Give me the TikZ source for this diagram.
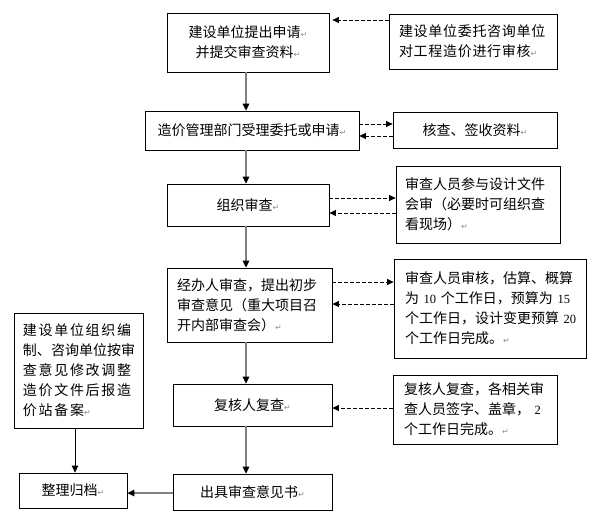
\documentclass[tikz,border=0pt]{standalone}
\usepackage{fontspec}
\setmainfont{Noto Sans CJK SC}
\newfontfamily\digitf{Liberation Serif}
\newfontfamily\symf{DejaVu Sans}
\newfontfamily\wideA{Noto Sans CJK SC}[LetterSpace=12]
\newfontfamily\wideB{Noto Sans CJK SC}[LetterSpace=5]
\usetikzlibrary{arrows.meta}
\newcommand\rmk{{\symf\fontsize{8}{8}\selectfont\textcolor{black!45}{↵}}}
\newcommand\dg[1]{{\digitf\fontsize{12.5}{12.5}\selectfont #1}}
\tikzset{
  box/.style={draw=black, line width=0.8pt, inner ysep=0pt, font=\fontsize{14}{20}\selectfont},
  cbox/.style={box, align=center, inner xsep=0pt},
  lbox/.style={box, align=left},
  sarr/.style={draw=black!50, line width=1.4pt, -{Triangle[length=7pt,width=6.5pt,color=black]}},
  karr/.style={draw=black, line width=1pt, -{Triangle[length=7pt,width=6.5pt]}},
  darr/.style={draw=black, line width=0.8pt, dash pattern=on 4pt off 2pt, -{Triangle[length=6.5pt,width=6pt]}}
}
\begin{document}
\begin{tikzpicture}[x=1pt,y=-1pt]
\useasboundingbox (0,0) rectangle (594,512);
\coordinate (ax) at (246,0);
% main column
\node[cbox, minimum width=162pt, minimum height=59pt] (b1) at (248,42.5) {建设单位提出申请\rmk\\并提交审查资料\rmk};
\node[cbox, minimum width=214pt, minimum height=39pt] (b2) at (252,130.5) {造价管理部门受理委托或申请\rmk};
\node[cbox, minimum width=162pt, minimum height=42pt] (b3) at (248,205) {组织审查\rmk};
\node[lbox, minimum height=74pt, inner xsep=10pt, text width=145pt] (b4) at (249.5,305) {经办人审查，提出初步\\审查意见（重大项目召\\开内部审查会）\rmk};
\node[cbox, minimum width=159pt, minimum height=42pt] (b5) at (252.5,405) {复核人复查\rmk};
\node[cbox, minimum width=159pt, minimum height=36pt] (b6) at (252.5,492) {出具审查意见书\rmk};
% right column
\node[lbox, minimum height=55pt, inner xsep=10pt, text width=148pt] (r1) at (473,41.5) {{\wideB 建设单位委托咨询单位}\\{\wideB 对工程造价进行审核}\rmk};
\node[cbox, minimum width=164pt, minimum height=36pt] (r2) at (475,130) {核查、签收资料\rmk};
\node[lbox, minimum height=77pt, inner xsep=9pt, text width=146pt] (r3) at (478,204.5) {审查人员参与设计文件\\会审（必要时可组织查\\看现场）\rmk};
\node[lbox, minimum height=99pt, inner xsep=11pt, text width=170pt] (r4) at (490,308.5) {审查人员审核，估算、概算\\为~\dg{10}~个工作日，预算为~\dg{15}\\个工作日，设计变更预算~\dg{20}\\个工作日完成。\rmk};
\node[lbox, minimum height=69pt, inner xsep=11pt, text width=142pt] (r5) at (475,409.5) {复核人复查，各相关审\\查人员签字、盖章，~\dg{2}\\个工作日完成。\rmk};
% left column
\node[lbox, minimum height=115pt, inner xsep=9pt, text width=111pt] (l1) at (78.5,370.5) {{\wideA 建设单位组织编}\\制、咨询单位按审\\{\wideA 查意见修改调整}\\{\wideA 造价文件后报造}\\{\wideA 价站备案}\rmk};
\node[cbox, minimum width=108pt, minimum height=35pt] (l2) at (73,490.5) {整理归档\rmk};
% main flow
\draw[sarr] (b1.south -| ax) -- (b2.north -| ax);
\draw[sarr] (b2.south -| ax) -- (b3.north -| ax);
\draw[sarr] (b3.south -| ax) -- (b4.north -| ax);
\draw[sarr] (b4.south -| ax) -- (b5.north -| ax);
\draw[sarr] (b5.south -| ax) -- (b6.north -| ax);
\draw[sarr] (b6.west |- 0,493) -- (l2.east |- 0,493);
\draw[karr] (l1.south -| 75,0) -- (l2.north -| 75,0);
% dashed side links
\draw[darr, shorten >=3pt] (r1.west |- 0,20) -- (b1.east |- 0,20);
\draw[darr] (b2.east |- 0,124) -- (r2.west |- 0,124);
\draw[darr] (r2.west |- 0,136) -- (b2.east |- 0,136);
\draw[darr] (b3.east |- 0,198) -- (r3.west |- 0,198);
\draw[darr] (r3.west |- 0,213) -- (b3.east |- 0,213);
\draw[darr] (b4.east |- 0,282) -- (r4.west |- 0,282);
\draw[darr] (r4.west |- 0,304) -- (b4.east |- 0,304);
\draw[darr] (r5.west |- 0,408) -- (b5.east |- 0,408);
\end{tikzpicture}
\end{document}
